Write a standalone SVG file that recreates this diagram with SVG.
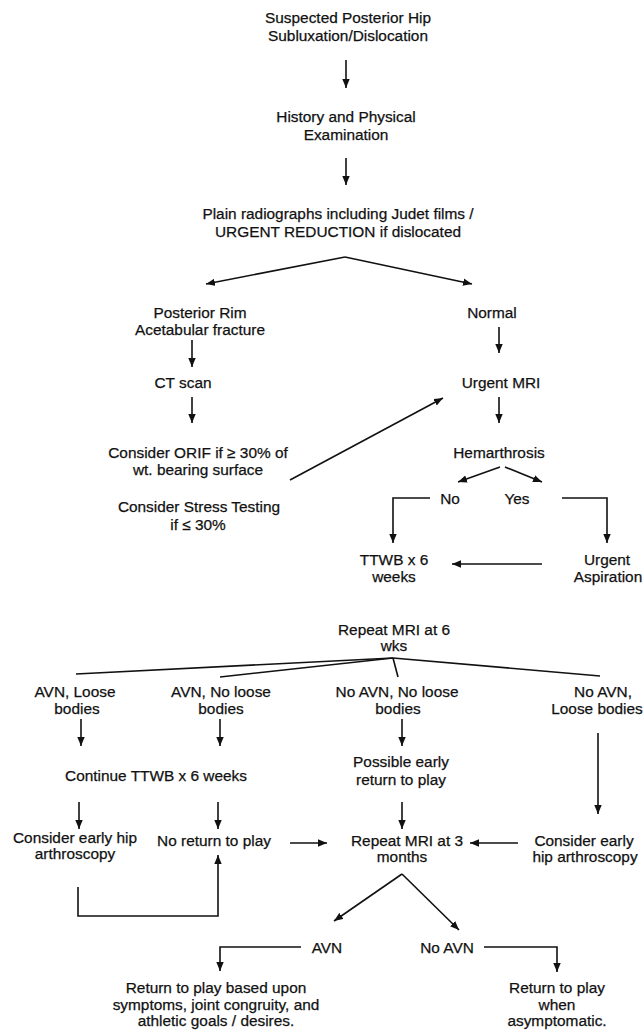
<svg xmlns="http://www.w3.org/2000/svg" width="644" height="1030" viewBox="0 0 644 1030">
<defs>
<marker id="ah" markerUnits="userSpaceOnUse" markerWidth="9" markerHeight="8" viewBox="0 0 9 8" refX="9" refY="4" orient="auto">
<path d="M0,0.3 L9,4 L0,7.7 z" fill="#111"/>
</marker>
<style>
text{font-family:"Liberation Sans",Arial,Helvetica,sans-serif;font-size:15.4px;fill:#111;stroke:#111;stroke-width:0.25;text-anchor:middle}
.c line,.c polyline{stroke:#111;stroke-width:1.6;fill:none}
.a{marker-end:url(#ah)}
</style>
</defs>
<rect width="644" height="1030" fill="#fff"/>
<g id="n1"><text x="348" y="23">Suspected Posterior Hip</text><text x="348" y="41">Subluxation/Dislocation</text></g>
<g id="n2"><text x="346" y="122">History and Physical</text><text x="346" y="140">Examination</text></g>
<g id="n3"><text x="338" y="219">Plain radiographs including Judet films /</text><text x="338" y="237">URGENT REDUCTION if dislocated</text></g>
<g id="n4"><text x="200" y="318">Posterior Rim</text><text x="200" y="335">Acetabular fracture</text></g>
<g id="n5"><text x="183" y="388">CT scan</text></g>
<g id="n6"><text x="198" y="458">Consider ORIF if ≥ 30% of</text><text x="198" y="475">wt. bearing surface</text></g>
<g id="n7"><text x="199" y="512">Consider Stress Testing</text><text x="198" y="530">if ≤ 30%</text></g>
<g id="n8"><text x="492" y="318">Normal</text></g>
<g id="n9"><text x="501" y="388">Urgent MRI</text></g>
<g id="n10"><text x="499" y="458">Hemarthrosis</text></g>
<g id="n11"><text x="450" y="504">No</text></g>
<g id="n12"><text x="517" y="504">Yes</text></g>
<g id="n13"><text x="394" y="565">TTWB x 6</text><text x="394" y="582">weeks</text></g>
<g id="n14"><text x="607" y="565">Urgent</text><text x="608" y="582">Aspiration</text></g>
<g id="n15"><text x="394" y="635">Repeat MRI at 6</text><text x="394" y="651">wks</text></g>
<g id="n16"><text x="75" y="697">AVN, Loose</text><text x="77" y="714">bodies</text></g>
<g id="n17"><text x="221" y="697">AVN, No loose</text><text x="221" y="714">bodies</text></g>
<g id="n18"><text x="397" y="697">No AVN, No loose</text><text x="398" y="714">bodies</text></g>
<g id="n19"><text x="603" y="697">No AVN,</text><text x="597" y="714">Loose bodies</text></g>
<g id="n20"><text x="156" y="781">Continue TTWB x 6 weeks</text></g>
<g id="n21"><text x="401" y="767">Possible early</text><text x="401" y="785">return to play</text></g>
<g id="n22"><text x="75" y="843">Consider early hip</text><text x="75" y="859">arthroscopy</text></g>
<g id="n23"><text x="214" y="846">No return to play</text></g>
<g id="n24"><text x="407" y="846">Repeat MRI at 3</text><text x="402" y="862">months</text></g>
<g id="n25"><text x="584" y="846">Consider early</text><text x="585" y="862">hip arthroscopy</text></g>
<g id="n26"><text x="327" y="953">AVN</text></g>
<g id="n27"><text x="447" y="953">No AVN</text></g>
<g id="n28"><text x="216" y="993">Return to play based upon</text><text x="216" y="1010">symptoms, joint congruity, and</text><text x="216" y="1026">athletic goals / desires.</text></g>
<g id="n29"><text x="557" y="993">Return to play</text><text x="557" y="1010">when</text><text x="557" y="1026">asymptomatic.</text></g>
<g id="connectors" class="c">
<line class="a" x1="346" y1="60" x2="346" y2="88"/>
<line class="a" x1="346" y1="158" x2="346" y2="185"/>
<line class="a" x1="345" y1="257" x2="206" y2="284"/>
<line class="a" x1="345" y1="257" x2="472" y2="284"/>
<line class="a" x1="192" y1="340" x2="192" y2="367"/>
<line class="a" x1="192" y1="397" x2="192" y2="423"/>
<line class="a" x1="499" y1="327" x2="499" y2="353"/>
<line class="a" x1="499" y1="397" x2="499" y2="423"/>
<line class="a" x1="290" y1="480" x2="443" y2="398"/>
<line class="a" x1="500" y1="467" x2="458" y2="482"/>
<line class="a" x1="505" y1="467" x2="542" y2="482"/>
<polyline class="a" points="430,498 393,498 393,543"/>
<polyline class="a" points="562,498 607,498 607,543"/>
<line class="a" x1="542" y1="564" x2="452" y2="564"/>
<line x1="393" y1="658" x2="76" y2="674"/>
<line x1="393" y1="658" x2="220" y2="677"/>
<line x1="393" y1="658" x2="398" y2="677"/>
<line x1="393" y1="658" x2="600" y2="676"/>
<line class="a" x1="81" y1="719" x2="81" y2="746"/>
<line class="a" x1="220" y1="719" x2="220" y2="746"/>
<line class="a" x1="402" y1="719" x2="402" y2="746"/>
<line class="a" x1="598" y1="733" x2="598" y2="814"/>
<line class="a" x1="79" y1="802" x2="79" y2="829"/>
<line class="a" x1="218" y1="802" x2="218" y2="829"/>
<line class="a" x1="402" y1="802" x2="402" y2="829"/>
<line class="a" x1="290" y1="843" x2="327" y2="843"/>
<line class="a" x1="518" y1="843" x2="470" y2="843"/>
<polyline class="a" points="78,887 78,916 218,916 218,855"/>
<line class="a" x1="402" y1="874" x2="334" y2="921"/>
<line class="a" x1="402" y1="874" x2="459" y2="930"/>
<polyline class="a" points="301,947 220,947 220,971"/>
<polyline class="a" points="484,947 557,947 557,972"/>
</g>
</svg>
